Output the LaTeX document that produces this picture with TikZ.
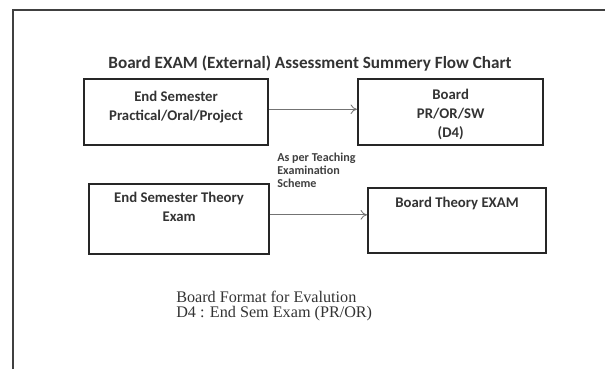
\documentclass[tikz,border=0pt]{standalone}
\usepackage{fontspec}
\setmainfont{Liberation Serif}
\newfontfamily\boxfont{Carlito}
\usetikzlibrary{arrows.meta,positioning}

\begin{document}
\begin{tikzpicture}[x=0.025cm, y=-0.025cm,
	every node/.style={inner sep=0pt},
	box/.style={draw=black!85, line width=1.5pt, anchor=north west},
	boxtext/.style={font=\boxfont\bfseries\fontsize{10.5}{13.5}\selectfont, align=center, anchor=north, text=black!80},
	flow/.style={draw=black!55, line width=0.6pt, -{To[length=1.6mm, width=2.4mm]}}]
	\useasboundingbox (0,0) rectangle (605,369);
	% frame of the page
	\draw[black!75, line width=1.6pt] (13,369) -- (13,10) -- (605,10);
	\node[font=\boxfont\bfseries\fontsize{12.2}{13}\selectfont, text=black!80] (title) at (310,63) {Board EXAM (External) Assessment Summery Flow Chart};
	% boxes
	\node[box, minimum width=4.6cm, minimum height=1.65cm] (prac) at (83,78) {};
	\node[box, minimum width=4.63cm, minimum height=1.65cm] (brdpr) at (357,78) {};
	\node[box, minimum width=4.5cm, minimum height=1.75cm] (theory) at (88,183) {};
	\node[box, minimum width=4.45cm, minimum height=1.63cm] (brdth) at (367,187) {};
	\node[boxtext] (pracT) at ([yshift=-9pt]prac.north) {End Semester\\Practical/Oral/Project};
	\node[boxtext] (brdprT) at ([yshift=-8pt]brdpr.north) {Board\\PR/OR/SW\\(D4)};
	\node[boxtext] (theoryT) at ([yshift=-6pt]theory.north) {End Semester Theory\\Exam};
	\node[boxtext] (brdthT) at ([yshift=-7pt]brdth.north) {Board Theory EXAM};
	% arrows
	\draw[flow] ([yshift=2pt]prac.east) -- ([yshift=2pt]prac.east -| brdpr.west);
	\draw[flow] ([yshift=3pt]theory.east) -- ([yshift=3pt]theory.east -| brdth.west);
	\node[font=\boxfont\bfseries\fontsize{8.6}{9.3}\selectfont, align=left, anchor=north west, text=black!75] (scheme) at (277,153) {As per Teaching\\Examination\\Scheme};
	% note below
	\node[font=\fontsize{11.5}{10.5}\selectfont, align=left, anchor=north west, text=black!80] (note) at (176,291) {Board Format for Evalution\\D4 : End Sem Exam (PR/OR)};
\end{tikzpicture}
\end{document}
